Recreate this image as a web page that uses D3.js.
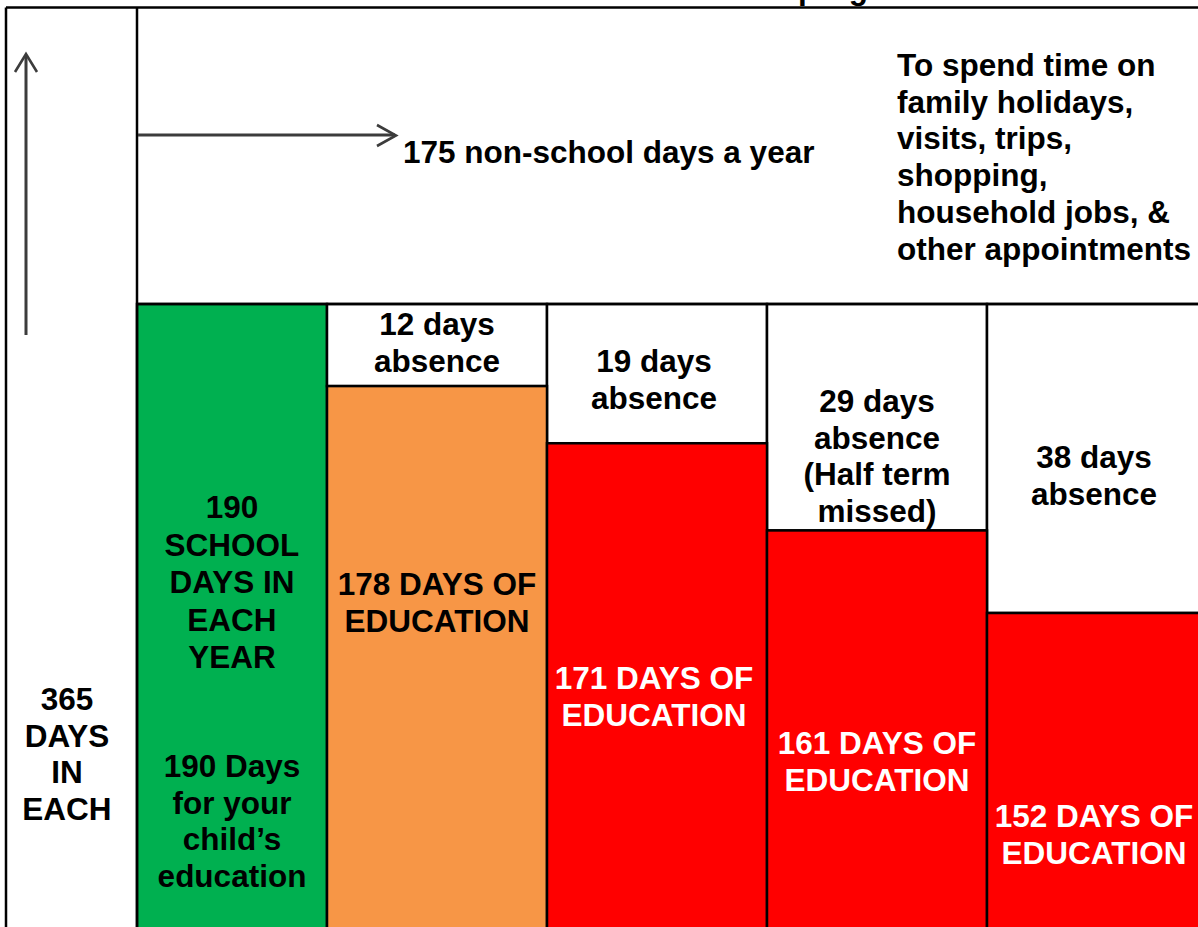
<!DOCTYPE html>
<html><head><meta charset="utf-8">
<script src="https://cdn.jsdelivr.net/npm/d3@7"></script>
<style>html,body{margin:0;padding:0;background:#fff;overflow:hidden}</style>
</head><body><svg id="chart" width="1198" height="927"></svg>
<script>
// ---------- data ----------
const title = "Attendance and progress";
const yearDays = 365;
const schoolDays = 190;
const nonSchoolDays = 175;
const absenceCategories = ["12 days", "19 days", "29 days", "38 days"];
const absenceDays = [12, 19, 29, 38];
const educationDays = [178, 171, 161, 152];
const absenceNotes = [[], [], ["(Half term", "missed)"], []];
const yearLabel = [String(yearDays), "DAYS", "IN", "EACH"];
const schoolLabel = [String(schoolDays), "SCHOOL", "DAYS IN", "EACH", "YEAR"];
const schoolLabel2 = [schoolDays + " Days", "for your", "child\u2019s", "education"];
const nonSchoolLabel = nonSchoolDays + " non-school days a year";
const nonSchoolUses = ["To spend time on", "family holidays,", "visits, trips,", "shopping,", "household jobs, &", "other appointments"];

// ---------- layout / style ----------
const W = 1198, H = 927;
const L = 6, T = 7.5, divX = 137, splitY = 304, colStart = 327, colW = 220, bottom = H + 10;
const FONT = "'Liberation Sans', Arial, Helvetica, sans-serif";
const FS = 31.5, LH = 36.8;
const schoolColor = "#00B050";
const barColors = ["#F79646", "#FF0000", "#FF0000", "#FF0000"];
const eduTextColors = ["#000", "#fff", "#fff", "#fff"];
const absenceLabelDy = [31, 68, 108, 164];
const eduLabelDy = [291, 385, 450, 523];
const labelDx = [0, -3, 0, -3];

const svg = d3.select("#chart");

const x = d3.scaleBand().domain(absenceCategories).range([colStart, colStart + colW * absenceCategories.length]).paddingInner(0);
const y = d3.scalePow().exponent(1.15).domain([0, d3.max(absenceDays)]).range([splitY, 613]);

const rows = absenceCategories.map((c, i) => ({c, a: absenceDays[i], e: educationDays[i], i}));

// school-days bar
svg.append("rect").attr("x", divX).attr("y", splitY).attr("width", colStart - divX).attr("height", bottom - splitY)
  .attr("fill", schoolColor).attr("stroke", "#000").attr("stroke-width", 2.5);

// absence cells (white)
svg.selectAll("rect.abs").data(rows).join("rect").attr("class", "abs")
  .attr("x", d => x(d.c)).attr("y", splitY).attr("width", x.bandwidth()).attr("height", d => y(d.a) - splitY)
  .attr("fill", "#fff").attr("stroke", "#000").attr("stroke-width", 2.5);

// education bars
svg.selectAll("rect.edu").data(rows).join("rect").attr("class", "edu")
  .attr("x", d => x(d.c)).attr("y", d => y(d.a)).attr("width", x.bandwidth()).attr("height", d => bottom - y(d.a))
  .attr("fill", d => barColors[d.i]).attr("stroke", "#000").attr("stroke-width", 2.5);

// frame lines
const lines = [
  [L, T, W + 10, T],
  [L, T, L, bottom],
  [divX, T, divX, bottom],
  [divX, splitY, W + 10, splitY]
];
svg.selectAll("line.frame").data(lines).join("line").attr("class", "frame")
  .attr("x1", d => d[0]).attr("y1", d => d[1]).attr("x2", d => d[2]).attr("y2", d => d[3])
  .attr("stroke", "#000").attr("stroke-width", 2.5);

// arrows
const arrowColor = "#3c3c3c";
svg.append("path").attr("d", "M26,335 V55").attr("stroke", arrowColor).attr("stroke-width", 3).attr("fill", "none");
svg.append("path").attr("d", "M15,72 L26,54 L37,72").attr("stroke", arrowColor).attr("stroke-width", 2.6).attr("fill", "none");
svg.append("path").attr("d", "M138,135 H395").attr("stroke", arrowColor).attr("stroke-width", 3).attr("fill", "none");
svg.append("path").attr("d", "M377,125 L396,135.5 L377,146").attr("stroke", arrowColor).attr("stroke-width", 2.6).attr("fill", "none");

// text helper
function block(linesArr, tx, ty, opts = {}) {
  const t = svg.append("text")
    .attr("font-family", FONT).attr("font-weight", "bold").attr("font-size", opts.fs || FS)
    .attr("fill", opts.fill || "#000").attr("text-anchor", opts.anchor || "middle");
  linesArr.forEach((s, k) => {
    t.append("tspan").attr("x", tx).attr("y", ty + k * (opts.lh || LH)).text(s);
  });
  return t;
}

// title (clipped at the top edge, as in the reference)
block([title], 743, -1.5);

// non-school text
block([nonSchoolLabel], 403, 163, {anchor: "start"});
block(nonSchoolUses, 897, 76, {anchor: "start", lh: 36.7});

// year label
block(yearLabel, 67, 710, {lh: 36.7});

// school column labels
const gx = (divX + colStart) / 2;
block(schoolLabel, gx, 518, {lh: 37.5});
block(schoolLabel2, gx, 777, {lh: 36.7});

// absence labels
rows.forEach(d => {
  const cx = x(d.c) + x.bandwidth() / 2 + labelDx[d.i];
  block([d.c, "absence"].concat(absenceNotes[d.i]), cx, splitY + absenceLabelDy[d.i], {lh: 36.7});
  block([d.e + " DAYS OF", "EDUCATION"], cx, splitY + eduLabelDy[d.i], {lh: 37, fill: eduTextColors[d.i]});
});
</script>
</body></html>
